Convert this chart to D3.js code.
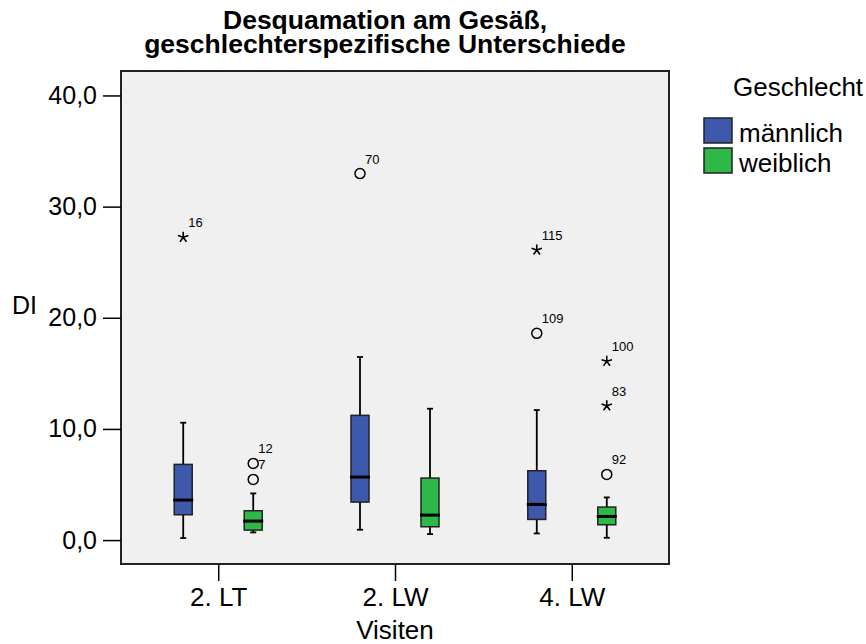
<!DOCTYPE html>
<html>
<head>
<meta charset="utf-8">
<script src="https://cdn.jsdelivr.net/npm/d3@7"></script>
<style>
  body { margin: 0; background: #fff; }
  text { font-family: "Liberation Sans", Arial, sans-serif; fill: #000; }
</style>
</head>
<body>
<svg id="chart" width="866" height="644"></svg>
<script>
const VISITS = ["2. LT", "2. LW", "4. LW"];
const GENDERS = ["männlich", "weiblich"];
const COLORS = ["#3e58ac", "#2eb848"];
const Y_TICKS = [0, 10, 20, 30, 40];

// box statistics, one value per visit
const MALE_LOW = [0.18, 0.93, 0.6];
const MALE_Q1 = [2.28, 3.42, 1.86];
const MALE_MED = [3.6, 5.67, 3.21];
const MALE_Q3 = [6.81, 11.22, 6.24];
const MALE_HIGH = [10.56, 16.47, 11.7];

const FEMALE_LOW = [0.69, 0.54, 0.21];
const FEMALE_Q1 = [0.9, 1.2, 1.38];
const FEMALE_MED = [1.71, 2.25, 2.13];
const FEMALE_Q3 = [2.64, 5.58, 2.97];
const FEMALE_HIGH = [4.2, 11.82, 3.84];

// outliers (circle) and extremes (star)
const OUT_VISIT = ["2. LT", "2. LT", "2. LT", "2. LW", "4. LW", "4. LW", "4. LW", "4. LW", "4. LW"];
const OUT_GENDER = ["männlich", "weiblich", "weiblich", "männlich", "männlich", "männlich", "weiblich", "weiblich", "weiblich"];
const OUT_VALUE = [27.24, 6.9, 5.46, 32.97, 26.1, 18.6, 16.08, 12.09, 5.91];
const OUT_ID = ["16", "12", "7", "70", "115", "109", "100", "83", "92"];
const OUT_EXTREME = [true, false, false, false, true, false, true, true, false];

const svg = d3.select("#chart");
const FRAME = { left: 121, right: 669, top: 71, bottom: 564 };

const x = d3.scalePoint()
  .domain(VISITS)
  .range([FRAME.left, FRAME.right])
  .padding(0.55);

const xGroup = d3.scaleBand()
  .domain(GENDERS)
  .range([-70, 70]);

const y = d3.scaleLinear()
  .domain([-2.15, 42.2])
  .range([FRAME.bottom, FRAME.top]);

const color = d3.scaleOrdinal().domain(GENDERS).range(COLORS);

const boxes = [];
VISITS.forEach((v, i) => {
  boxes.push({ visit: v, gender: GENDERS[0], low: MALE_LOW[i], q1: MALE_Q1[i], med: MALE_MED[i], q3: MALE_Q3[i], high: MALE_HIGH[i] });
  boxes.push({ visit: v, gender: GENDERS[1], low: FEMALE_LOW[i], q1: FEMALE_Q1[i], med: FEMALE_MED[i], q3: FEMALE_Q3[i], high: FEMALE_HIGH[i] });
});

const outliers = OUT_VALUE.map((val, i) => ({
  visit: OUT_VISIT[i], gender: OUT_GENDER[i], value: val, id: OUT_ID[i], extreme: OUT_EXTREME[i]
}));

const cx = d => x(d.visit) + xGroup(d.gender) + xGroup.bandwidth() / 2;
const BOX_W = 18;
const CAP_W = 6;

// plot frame
svg.append("rect")
  .attr("x", FRAME.left)
  .attr("y", FRAME.top)
  .attr("width", FRAME.right - FRAME.left)
  .attr("height", FRAME.bottom - FRAME.top)
  .attr("fill", "#f0f0f0")
  .attr("stroke", "#222")
  .attr("stroke-width", 2);

// title
const title = svg.append("text")
  .attr("text-anchor", "middle")
  .style("font-size", "26.5px")
  .style("font-weight", "bold");
title.append("tspan").attr("x", 385).attr("y", 29).text("Desquamation am Gesäß,");
title.append("tspan").attr("x", 385).attr("y", 53).text("geschlechterspezifische Unterschiede");

// y axis
const yAxis = svg.append("g")
  .attr("transform", `translate(${FRAME.left},0)`)
  .call(d3.axisLeft(y).tickValues(Y_TICKS).tickSize(18).tickPadding(6)
    .tickFormat(d => d3.format(".1f")(d).replace(".", ",")));
yAxis.select(".domain").remove();
yAxis.selectAll("line").attr("stroke", "#000").attr("stroke-width", 1.5);
yAxis.selectAll("text").style("font-size", "25px").attr("font-family", null);

svg.append("text")
  .attr("x", 12)
  .attr("y", 314)
  .style("font-size", "25px")
  .text("DI");

// x axis
const xAxis = svg.append("g")
  .attr("transform", `translate(0,${FRAME.bottom})`)
  .call(d3.axisBottom(x).tickSize(17).tickPadding(7));
xAxis.select(".domain").remove();
xAxis.selectAll("line").attr("stroke", "#000").attr("stroke-width", 1.5);
xAxis.selectAll("text").style("font-size", "26px").attr("font-family", null);

svg.append("text")
  .attr("x", (FRAME.left + FRAME.right) / 2)
  .attr("y", 639)
  .attr("text-anchor", "middle")
  .style("font-size", "26px")
  .text("Visiten");

// boxes
const g = svg.append("g").selectAll("g")
  .data(boxes)
  .join("g");

g.append("line")
  .attr("x1", cx).attr("x2", cx)
  .attr("y1", d => y(d.low)).attr("y2", d => y(d.high))
  .attr("stroke", "#000").attr("stroke-width", 1.8);

g.selectAll("line.cap")
  .data(d => [{ c: cx(d), v: d.low }, { c: cx(d), v: d.high }])
  .join("line")
  .attr("class", "cap")
  .attr("x1", d => d.c - CAP_W / 2).attr("x2", d => d.c + CAP_W / 2)
  .attr("y1", d => y(d.v)).attr("y2", d => y(d.v))
  .attr("stroke", "#000").attr("stroke-width", 1.8);

g.append("rect")
  .attr("x", d => cx(d) - BOX_W / 2)
  .attr("width", BOX_W)
  .attr("y", d => y(d.q3))
  .attr("height", d => y(d.q1) - y(d.q3))
  .attr("fill", d => color(d.gender))
  .attr("stroke", "#222")
  .attr("stroke-width", 1.5);

g.append("line")
  .attr("x1", d => cx(d) - BOX_W / 2 - 1).attr("x2", d => cx(d) + BOX_W / 2 + 1)
  .attr("y1", d => y(d.med)).attr("y2", d => y(d.med))
  .attr("stroke", "#000").attr("stroke-width", 3);

// five-armed star like the SPSS extreme marker
const star = {
  draw(ctx, size) {
    const r = Math.sqrt(size) / 2;
    for (let k = 0; k < 5; k++) {
      const a = -Math.PI / 2 + k * 2 * Math.PI / 5;
      ctx.moveTo(0, 0);
      ctx.lineTo(r * Math.cos(a), r * Math.sin(a));
    }
  }
};

const o = svg.append("g").selectAll("g")
  .data(outliers)
  .join("g")
  .attr("transform", d => `translate(${cx(d)},${y(d.value)})`);

o.filter(d => !d.extreme).append("circle")
  .attr("r", 5)
  .attr("fill", "none")
  .attr("stroke", "#000")
  .attr("stroke-width", 1.5);

o.filter(d => d.extreme).append("path")
  .attr("d", d3.symbol(star, 121))
  .attr("fill", "none")
  .attr("stroke", "#000")
  .attr("stroke-width", 1.6);

o.append("text")
  .attr("x", 5)
  .attr("y", -10)
  .style("font-size", "13px")
  .text(d => d.id);

// legend
const legend = svg.append("g");
legend.append("text")
  .attr("x", 733)
  .attr("y", 96)
  .style("font-size", "26px")
  .text("Geschlecht");

const items = legend.selectAll("g.item")
  .data(GENDERS)
  .join("g")
  .attr("class", "item")
  .attr("transform", (d, i) => `translate(704,${118 + i * 30})`);

items.append("rect")
  .attr("width", 28)
  .attr("height", 25)
  .attr("fill", d => color(d))
  .attr("stroke", "#222")
  .attr("stroke-width", 1.5);

items.append("text")
  .attr("x", 35)
  .attr("y", 24)
  .style("font-size", "26px")
  .text(d => d);
</script>
</body>
</html>
